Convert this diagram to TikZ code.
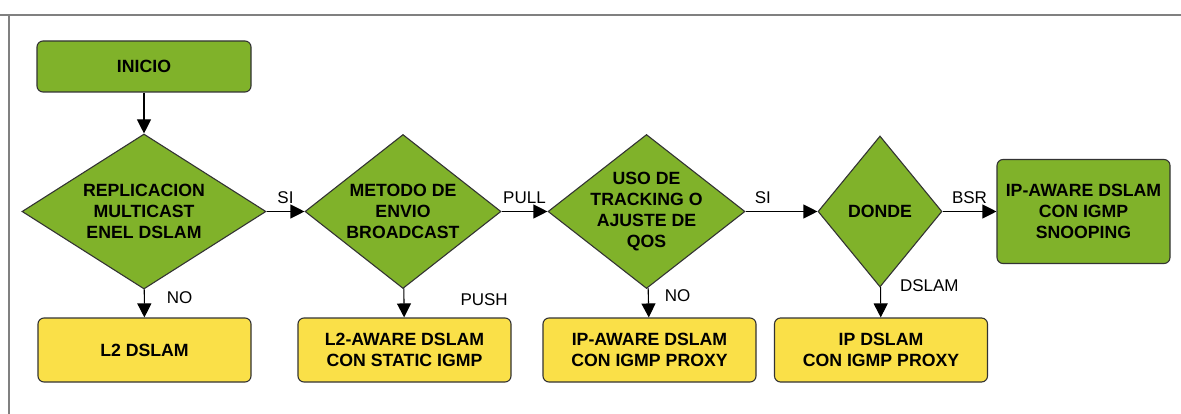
\documentclass[tikz,border=0pt]{standalone}
\usepackage{fontspec}
\setmainfont{Liberation Sans}
\usetikzlibrary{shapes.geometric,arrows.meta,positioning}
\definecolor{flowgreen}{RGB}{128,178,42}
\definecolor{flowyellow}{RGB}{250,224,72}

\begin{document}
\begin{tikzpicture}[x=1pt,y=-1pt,% pixel-like units, y grows downwards
        box/.style={draw=black!80,line width=1.1pt,rounded corners=6pt,align=center,
          font=\bfseries\fontsize{17.7}{21}\selectfont},
        startbox/.style={box,fill=flowgreen},
        endbox/.style={box,fill=flowyellow,minimum width=213pt,minimum height=64pt},
        decision/.style={diamond,draw=black!80,line width=1.1pt,fill=flowgreen,align=center,
          inner xsep=-15pt,inner ysep=0pt,font=\bfseries\fontsize{17.7}{21}\selectfont},
        answer/.style={font=\fontsize{17}{20}\selectfont,inner sep=1pt},
        flow/.style={-{Triangle[length=14pt,width=14pt]},line width=1.1pt}]
\useasboundingbox (0,0) rectangle (1181,414);
\draw[gray,line width=1.5pt] (0,15) -- (1181,15) (9,15) -- (9,414); % frame

% start and decisions
\node[startbox,minimum width=214pt,minimum height=51pt] (ini) at (144,66.5) {INICIO};
\node[decision,minimum width=244pt,minimum height=155pt,shape aspect=1.57] (rep) at (144,211.5)
  {REPLICACION\\MULTICAST\\ENEL DSLAM};
\node[decision,minimum width=196pt,minimum height=154pt,shape aspect=1.27] (env) at (403,211.5)
  {METODO DE\\ENVIO\\BROADCAST};
\node[decision,minimum width=197pt,minimum height=154pt,shape aspect=1.28] (trk) at (646.5,211.5)
  {USO DE\\TRACKING O\\AJUSTE DE\\QOS};
\node[decision,minimum width=124pt,minimum height=151pt,shape aspect=0.82] (don) at (880,211.5)
  {DONDE};
\node[startbox,minimum width=173pt,minimum height=104pt] (snp) at (1083.5,211.5)
  {IP-AWARE DSLAM\\CON IGMP\\SNOOPING};

% results
\node[endbox] (l2) at (144.5,350) {L2 DSLAM};
\node[endbox] (l2a) at (404.5,350) {L2-AWARE DSLAM\\CON STATIC IGMP};
\node[endbox] (ipa) at (649.5,350) {IP-AWARE DSLAM\\CON IGMP PROXY};
\node[endbox] (ipd) at (881,350) {IP DSLAM\\CON IGMP PROXY};

% connectors
\draw[flow] (ini) -- (rep);
\draw[flow] (rep) -- (env) node[answer,midway,above=6pt] {SI};
\draw[flow] (env) -- (trk) node[answer,midway,above=6pt] {PULL};
\draw[flow] (trk) -- (don) node[answer,pos=0.24,above=6pt] {SI};
\draw[flow] (don) -- (snp) node[answer,midway,above=6pt] {BSR};
\draw[flow] (rep) -- (l2) node[answer,pos=0.3,right=21pt] {NO};
\draw[flow] (env) -- (l2a) node[answer,pos=0.4,right=55pt] {PUSH};
\draw[flow] (trk) -- (ipa) node[answer,pos=0.25,right=15pt] {NO};
\draw[flow] (don) -- (ipd) node[answer,pos=-0.05,right=18pt] {DSLAM};
\end{tikzpicture}
\end{document}
